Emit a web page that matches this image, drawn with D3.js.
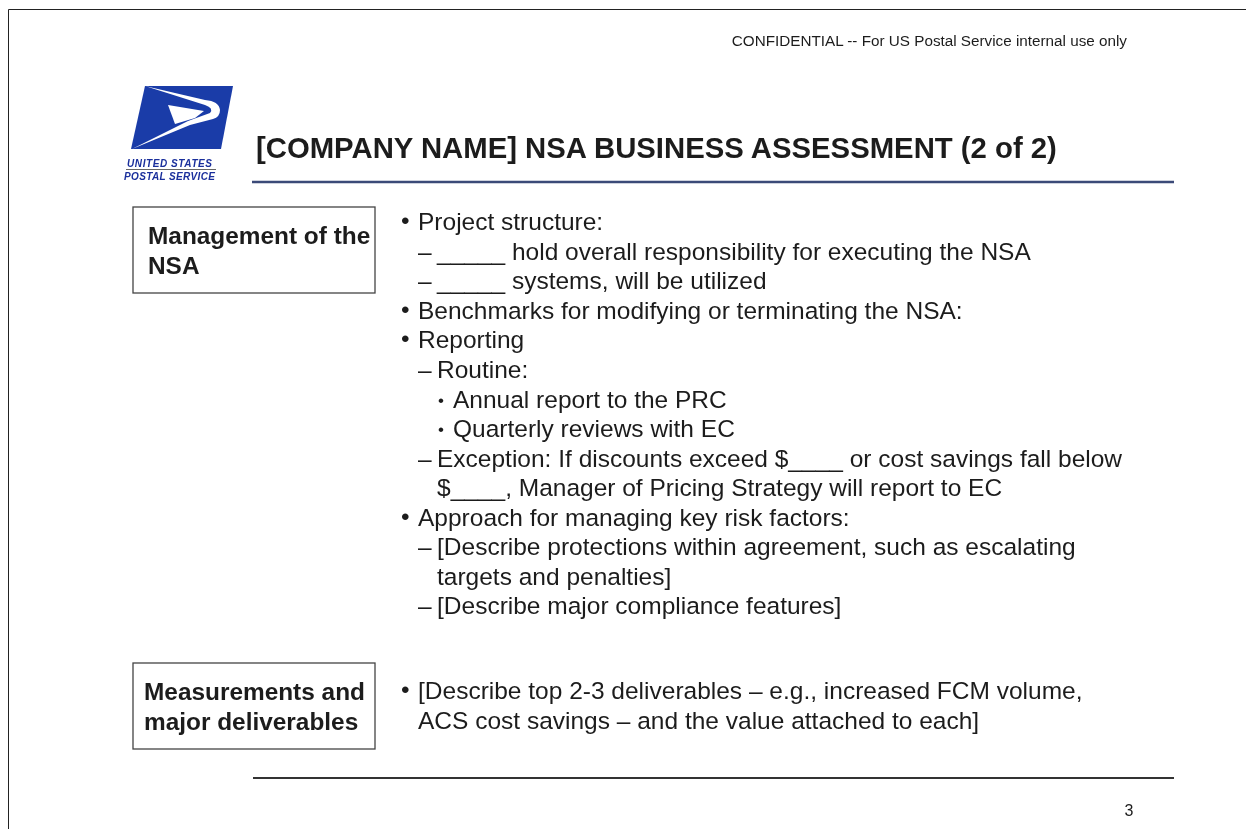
<!DOCTYPE html>
<html><head><meta charset="utf-8">
<script src="https://cdn.jsdelivr.net/npm/d3@7"></script>
<style>html,body{margin:0;padding:0;background:#fff}svg{display:block;filter:blur(.4px)}text{font-family:"Liberation Sans",Arial,sans-serif;fill:#1c1c1c}</style>
</head><body><svg id="c" width="1246" height="829"></svg>
<script>
const confidentiality = "CONFIDENTIAL -- For US Postal Service internal use only";
const title = "[COMPANY NAME] NSA BUSINESS ASSESSMENT (2 of 2)";
const pageNumber = "3";
const lineLevels = [0,1,1,0,0,1,2,2,1,3,0,1,3,1];
const lineTexts = [
 "Project structure:",
 "_____ hold overall responsibility for executing the NSA",
 "_____ systems, will be utilized",
 "Benchmarks for modifying or terminating the NSA:",
 "Reporting",
 "Routine:",
 "Annual report to the PRC",
 "Quarterly reviews with EC",
 "Exception: If discounts exceed $____ or cost savings fall below",
 "$____, Manager of Pricing Strategy will report to EC",
 "Approach for managing key risk factors:",
 "[Describe protections within agreement, such as escalating",
 "targets and penalties]",
 "[Describe major compliance features]"];
const deliverableLevels = [0,4];
const deliverableTexts = [
 "[Describe top 2-3 deliverables \u2013 e.g., increased FCM volume,",
 "ACS cost savings \u2013 and the value attached to each]"];
const boxes = [["Management of the","NSA"],["Measurements and","major deliverables"]];

const svg = d3.select("#c");
const rowY = d3.scaleLinear().domain([0,13]).range([230.3,614.3]);
const rowY2 = d3.scaleLinear().domain([0,1]).range([698.5,728.5]);
const textX = d3.scaleOrdinal().domain([0,1,2,3,4]).range([418,437,453,437,418]);
const marker = ["\u2022","\u2013","\u2022"];
const markerX = d3.scaleOrdinal().domain([0,1,2]).range([401,418,438]);
const markerLift = [1,0,0];
const markerSize = [24.5,24.5,17];

svg.append("path").attr("d","M8.5 829V9.5H1246").attr("fill","none").attr("stroke","#222").attr("stroke-width",1);

svg.append("text").attr("x",1127).attr("y",45.5).attr("text-anchor","end").attr("font-size",15.25).text(confidentiality);
svg.append("text").attr("x",256).attr("y",158).attr("font-size",29.3).attr("font-weight","bold").text(title);
svg.append("line").attr("x1",252).attr("x2",1174).attr("y1",182).attr("y2",182).attr("stroke","#3b4a78").attr("stroke-width",2.5);
svg.append("line").attr("x1",253).attr("x2",1174).attr("y1",778).attr("y2",778).attr("stroke","#333").attr("stroke-width",2);
svg.append("text").attr("x",1129).attr("y",816).attr("text-anchor","middle").attr("font-size",16).text(pageNumber);

// logo
const logo = svg.append("g");
logo.append("path").attr("d","M145 86H233L221 149H131Z").attr("fill","#1a3ca8");
logo.append("path").attr("d","M145 86L205 100Q219 101 220 110Q220 117 213 119L190 125L132 149L188 121L210 113Q214 108 205 105Z").attr("fill","#fff");
logo.append("path").attr("d","M168 105L204 111L195 118L175 124Z").attr("fill","#fff");
logo.append("text").attr("x",127).attr("y",167).attr("font-size",10).attr("font-weight","bold").attr("font-style","italic").attr("style","fill:#1a2f9c").attr("textLength",85).text("UNITED STATES");
logo.append("line").attr("x1",126).attr("x2",216).attr("y1",169.5).attr("y2",169.5).attr("stroke","#666");
logo.append("text").attr("x",124).attr("y",180).attr("font-size",10).attr("font-weight","bold").attr("font-style","italic").attr("style","fill:#1a2f9c").attr("textLength",91).text("POSTAL SERVICE");

// boxes
const boxTop = d3.scaleOrdinal().domain([0,1]).range([207,663]);
const boxTextX = d3.scaleOrdinal().domain([0,1]).range([148,144]);
const g = svg.selectAll("g.box").data(boxes).join("g").attr("class","box");
g.append("rect").attr("x",133).attr("y",(d,i)=>boxTop(i)).attr("width",242).attr("height",86)
 .attr("fill","#fff").attr("stroke","#444").attr("stroke-width",1.3);
g.each(function(d,i){
  d3.select(this).selectAll("text").data(d).join("text")
   .attr("x",boxTextX(i)).attr("y",(t,j)=>boxTop(i)+37+j*30).attr("font-size",24.4).attr("font-weight","bold").text(t=>t);
});

function drawLines(texts, levels, y){
  const rows = texts.map((t,i)=>({t,level:levels[i],i}));
  const r = svg.append("g").selectAll("g").data(rows).join("g");
  r.append("text").attr("x",d=>textX(d.level)).attr("y",d=>y(d.i)).attr("font-size",24.5).text(d=>d.t);
  r.filter(d=>d.level<3).append("text")
   .attr("x",d=>markerX(d.level)).attr("y",d=>y(d.i)-markerLift[d.level]-(d.level===2?2:0)).attr("font-size",d=>markerSize[d.level]).text(d=>marker[d.level]);
}
drawLines(lineTexts,lineLevels,rowY);
drawLines(deliverableTexts,deliverableLevels,rowY2);
</script></body></html>
